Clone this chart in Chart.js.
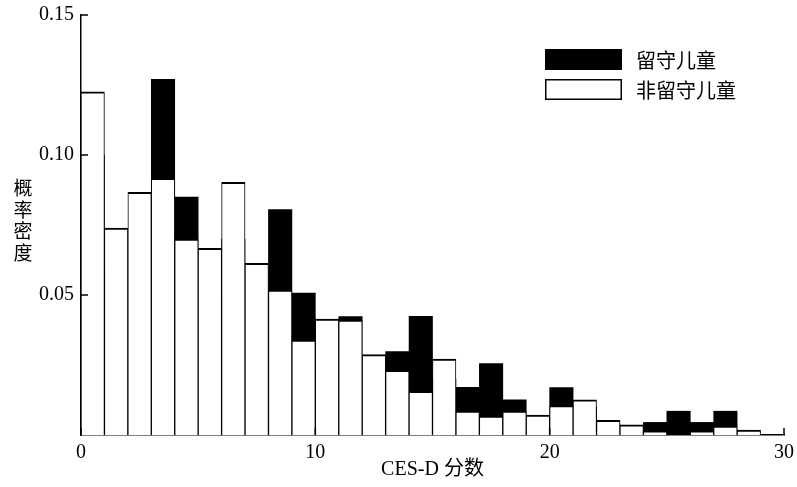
<!DOCTYPE html>
<html>
<head>
<meta charset="utf-8">
<script src="https://cdn.jsdelivr.net/npm/chart.js@4.4.1/dist/chart.umd.min.js"></script>
<style>
  body { margin: 0; background: #fff; }
  canvas { display: block; }
</style>
</head>
<body>
<canvas id="histChart" width="797" height="487"></canvas>
<script>
// bin left edges (CES-D score, width 1)
const bins = [0, 1, 2, 3, 4, 5, 6, 7, 8, 9, 10, 11, 12, 13, 14, 15, 16, 17, 18, 19, 20, 21, 22, 23, 24, 25, 26, 27, 28];
// 留守儿童 (black, drawn behind)
const leftBehind = [0.100, 0.060, 0.070, 0.127, 0.085, 0.050, 0.070, 0.050, 0.0805, 0.0507,
  0.035, 0.0423, 0.020, 0.0298, 0.0424, 0.020, 0.017, 0.0255, 0.0126, 0.005,
  0.0169, 0.010, 0.004, 0.003, 0.0045, 0.0085, 0.0045, 0.0085, 0];
// 非留守儿童 (white, drawn in front)
const nonLeftBehind = [0.1226, 0.0739, 0.0867, 0.0917, 0.070, 0.0667, 0.0902, 0.0613, 0.0518, 0.0339,
  0.0414, 0.041, 0.0287, 0.0231, 0.0156, 0.0271, 0.0085, 0.0068, 0.0085, 0.0071,
  0.0105, 0.0126, 0.0052, 0.0036, 0.0015, 0, 0.0015, 0.0032, 0.0018];
const xTicks = [0, 10, 20, 30];
const yTicks = [0.05, 0.10, 0.15];

const serif = "'Liberation Serif', 'Noto Sans CJK SC', serif";
const cjk = "'Noto Sans CJK SC', sans-serif";

const ctx = document.getElementById('histChart').getContext('2d');

// inward tick marks, legend and stacked y title
const extras = {
  id: 'extras',
  afterDatasetsDraw(chart) {
    const c = chart.ctx;
    const area = chart.chartArea;
    const xs = chart.scales.x, ys = chart.scales.y;
    c.save();
    c.strokeStyle = '#000';
    c.lineWidth = 1.5;
    c.beginPath();
    yTicks.forEach(v => {
      const y = ys.getPixelForValue(v);
      c.moveTo(area.left, y);
      c.lineTo(area.left + 7, y);
    });
    xTicks.forEach(v => {
      const x = xs.getPixelForValue(v);
      c.moveTo(x, area.bottom);
      c.lineTo(x, area.bottom - 7);
    });
    c.stroke();

    // legend
    const lx = 545, bw = 77, bh = 21;
    const rows = [49, 79];
    c.font = '20px ' + cjk;
    c.textBaseline = 'middle';
    c.textAlign = 'left';
    chart.data.datasets.forEach((ds, i) => {
      const y = rows[i];
      c.fillStyle = ds.backgroundColor;
      c.fillRect(lx, y, bw, bh);
      c.lineWidth = 1.5;
      c.strokeStyle = '#000';
      c.strokeRect(lx + 0.75, y + 0.75, bw - 1.5, bh - 1.5);
      c.fillStyle = '#000';
      c.fillText(ds.label, 636, y + bh / 2 + 1);
    });

    // y title, upright characters stacked
    c.font = '19px ' + cjk;
    c.textAlign = 'center';
    const title = '概率密度';
    for (let i = 0; i < title.length; i++) {
      c.fillText(title[i], 23, 188 + i * 21.5);
    }
    c.restore();
  }
};

new Chart(ctx, {
  type: 'bar',
  data: {
    datasets: [
      {
        label: '留守儿童',
        data: bins.map((b, i) => ({ x: b + 0.5, y: leftBehind[i] })),
        backgroundColor: '#000000',
        borderColor: '#000000',
        borderWidth: 0,
        order: 1
      },
      {
        label: '非留守儿童',
        data: bins.map((b, i) => ({ x: b + 0.5, y: nonLeftBehind[i] })),
        backgroundColor: '#ffffff',
        borderColor: '#000000',
        borderWidth: { top: 2, left: 1, right: 1, bottom: 0 },
        order: 0
      }
    ]
  },
  options: {
    responsive: false,
    animation: false,
    grouped: false,
    barPercentage: 1,
    categoryPercentage: 1,
    layout: { padding: { top: 15, right: 13, left: 0, bottom: 0 } },
    plugins: {
      legend: { display: false },
      tooltip: { enabled: false }
    },
    scales: {
      x: {
        type: 'linear',
        min: 0,
        max: 30,
        offset: false,
        grid: { display: false, drawTicks: false },
        border: { display: true, color: '#000', width: 1.5 },
        afterBuildTicks: s => { s.ticks = xTicks.map(v => ({ value: v })); },
        afterFit: s => { s.height = 52; s.paddingLeft = 0; s.paddingRight = 0; },
        ticks: {
          color: '#000',
          padding: 6,
          maxRotation: 0,
          font: { family: serif, size: 20 }
        },
        title: {
          display: true,
          text: 'CES-D 分数',
          color: '#000',
          font: { family: serif, size: 20 },
          padding: { top: 0, bottom: 5 }
        }
      },
      y: {
        min: 0,
        max: 0.15,
        grid: { display: false, drawTicks: false },
        border: { display: true, color: '#000', width: 1.5 },
        afterBuildTicks: s => { s.ticks = yTicks.map(v => ({ value: v })); },
        afterFit: s => { s.width = 81; s.paddingTop = 0; s.paddingBottom = 0; },
        ticks: {
          color: '#000',
          padding: 7,
          font: { family: serif, size: 20 },
          callback: v => v.toFixed(2)
        }
      }
    }
  },
  plugins: [extras]
});
</script>
</body>
</html>
